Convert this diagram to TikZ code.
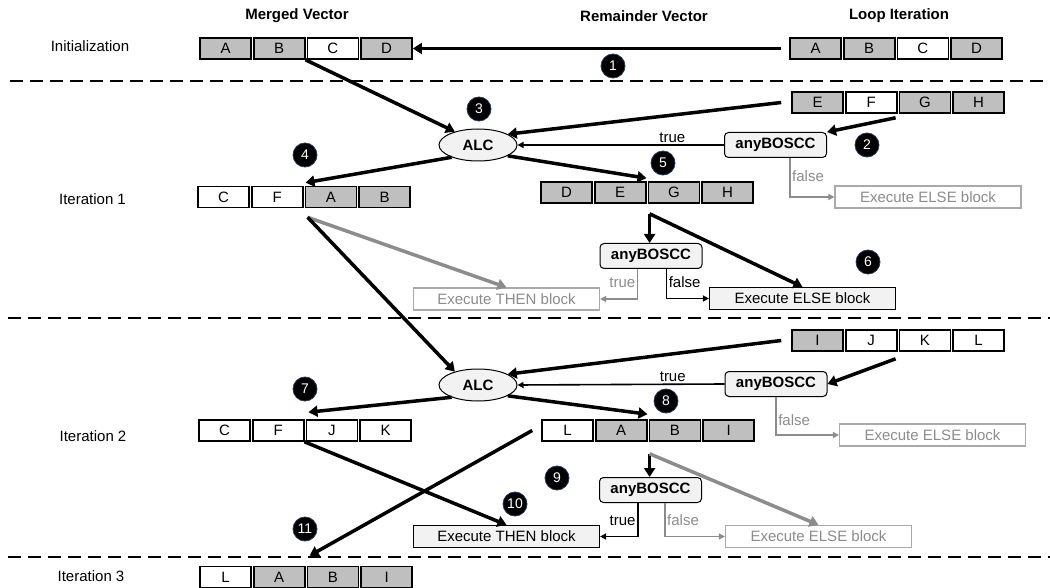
\documentclass[tikz,border=0pt]{standalone}
\usepackage{fontspec}
\setmainfont{Liberation Sans}
\usetikzlibrary{arrows.meta,shapes.geometric,calc}
\definecolor{cfill}{RGB}{191,191,191}
\definecolor{clight}{RGB}{242,242,242}
\definecolor{cgline}{RGB}{140,140,140}
\definecolor{cgtext}{RGB}{140,140,140}
\definecolor{cgbox}{RGB}{170,170,170}
\definecolor{cbadge}{RGB}{31,56,100}
\newcommand\vecrow[4]{%
  \foreach \l/\f [count=\i] in {#4} {
    \node[vcell, fill=\f] (#1-\i) at ({#2+25.5+(\i-1)*53.7},#3) {\l};
  }}
\begin{document}
\begin{tikzpicture}[x=1pt,y=-1pt,
  font=\fontsize{15}{18}\selectfont,
  hdr/.style={font=\fontsize{15}{18}\selectfont\bfseries},
  vcell/.style={draw, line width=1.6pt, minimum width=51pt, minimum height=21pt, inner sep=0pt},
  alcnode/.style={ellipse, draw, fill=clight, line width=1pt, minimum width=78pt, minimum height=32pt, inner sep=0pt, font=\fontsize{15}{18}\selectfont\bfseries},
  boscc/.style={draw, rounded corners=4pt, fill=clight, line width=1pt, minimum width=102pt, minimum height=25pt, inner sep=0pt, font=\fontsize{15}{18}\selectfont\bfseries},
  execbox/.style={draw, fill=clight, line width=1.2pt, minimum width=186pt, minimum height=22pt, inner sep=0pt},
  execgray/.style={draw=cgbox, fill=white, text=cgtext, line width=1.2pt, minimum width=186pt, minimum height=22pt, inner sep=0pt},
  badge/.style={circle, fill=black, draw=cbadge, line width=0.8pt, minimum size=24pt, inner sep=0pt, text=white, font=\fontsize{14}{14}\selectfont},
  thickarr/.style={line width=3.5pt, -{Triangle[length=9pt,width=11pt]}},
  grayarr/.style={line width=3.5pt, draw=cgline, -{Triangle[length=9pt,width=11pt]}},
  thinarr/.style={line width=1.6pt, -{Triangle[length=6pt,width=6pt]}},
  grayline/.style={line width=1.6pt, draw=cgline, -{Triangle[length=6pt,width=6pt]}},
  lbl/.style={inner sep=1.5pt},
  sepline/.style={line width=2.5pt, dash pattern=on 13pt off 7pt}
]
\useasboundingbox (0,0) rectangle (1050,588);

% headers and row labels
\node[hdr] (hm) at (297,16) {Merged Vector};
\node[hdr] (hr) at (644,16) {Remainder Vector};
\node[hdr] (hl) at (899,16) {Loop Iteration};
\node (lab0) at (90,46) {Initialization};
\node (lab1) at (92.5,199) {Iteration 1};
\node (lab2) at (93,436) {Iteration 2};
\node (lab3) at (91,576) {Iteration 3};

% separators
\draw[sepline] (10,81) -- (1050,81);
\draw[sepline] (8,318) -- (1050,318);
\draw[sepline] (8,557) -- (1050,557);

% vectors
\vecrow{mv0}{200}{48.5}{A/cfill,B/cfill,C/white,D/cfill}
\vecrow{lv0}{790}{48.5}{A/cfill,B/cfill,C/white,D/cfill}
\vecrow{lv1}{792}{102.5}{E/cfill,F/white,G/cfill,H/cfill}
\vecrow{mv1}{198}{197}{C/white,F/white,A/cfill,B/cfill}
\vecrow{rv1}{541}{192.5}{D/cfill,E/cfill,G/cfill,H/cfill}
\vecrow{lv2}{792}{340.5}{I/cfill,J/white,K/white,L/white}
\vecrow{mv2}{199}{430.5}{C/white,F/white,J/white,K/white}
\vecrow{rv2}{542}{430.5}{L/white,A/cfill,B/cfill,I/cfill}
\vecrow{mv3}{200}{577}{L/white,A/cfill,B/cfill,I/cfill}

% operation nodes
\node[alcnode] (alc1) at (478,145) {ALC};
\node[alcnode] (alc2) at (478,385) {ALC};
\node[boscc] (any1) at (775.5,145) {anyBOSCC};
\node[boscc] (any2) at (651,256) {anyBOSCC};
\node[boscc] (any3) at (776,384) {anyBOSCC};
\node[boscc] (any4) at (650.5,490) {anyBOSCC};
\node[execgray] (else1a) at (928,197) {Execute ELSE block};
\node[execgray] (then1) at (506.5,299) {Execute THEN block};
\node[execbox] (else1b) at (802.5,298.5) {Execute ELSE block};
\node[execgray] (else2a) at (932.5,435) {Execute ELSE block};
\node[execbox] (then2) at (506.5,536.5) {Execute THEN block};
\node[execgray] (else2b) at (818.5,536.5) {Execute ELSE block};

% badges
\node[badge] (b1) at (613,66) {1};
\node[badge] (b2) at (867,145) {2};
\node[badge] (b3) at (479,109) {3};
\node[badge] (b4) at (305,155) {4};
\node[badge] (b5) at (663,163) {5};
\node[badge] (b6) at (868,262) {6};
\node[badge] (b7) at (305,389) {7};
\node[badge] (b8) at (666,401) {8};
\node[badge] (b9) at (557,478) {9};
\node[badge] (b10) at (515,504) {10};
\node[badge] (b11) at (305,529) {11};

% initialization
\draw[thickarr] ([shift={(-8,0)}]lv0-1.west) -- (mv0-4.east);

% iteration 1
\draw[thickarr] (mv0-2.south east) -- (alc1.150);
\draw[thickarr] ([shift={(-10,0)}]lv1-1.west) -- (alc1.20);
\draw[thinarr] (any1.west) -- node[lbl,above,pos=0.25]{true} (alc1.east);
\draw[thickarr] ([shift={(-3,4)}]lv1-3.south west) -- (any1.north east);
\draw[grayline] ($(any1.south west)!0.64!(any1.south east)$) |- node[lbl,right,pos=0.23,text=cgtext]{false} (else1a.west);
\draw[thickarr] (alc1.205) -- ([shift={(2,-3)}]mv1-2.north east);
\draw[thickarr] (alc1.340) -- ([shift={(0,-3)}]rv1-2.north east);
\coordinate (f1) at ([shift={(2,10)}]rv1-3.south west);
\draw[thickarr] (f1) -- (f1 |- any2.north);
\draw[thickarr] (f1) -- (else1b.north);
\draw[grayline] ($(any2.south west)!0.37!(any2.south east)$) |- node[lbl,left,pos=0.23,text=cgtext]{true} (then1.east);
\draw[thinarr] ($(any2.south west)!0.65!(any2.south east)$) |- node[lbl,right,pos=0.23]{false} (else1b.west);
\coordinate (f2) at ([shift={(3,9)}]mv1-3.south west);
\draw[grayarr] (f2) -- (then1.north);
\draw[thickarr] (f2) -- (alc2.150);

% iteration 2
\draw[thickarr] ([shift={(-10,0)}]lv2-1.west) -- (alc2.20);
\draw[thickarr] ([shift={(-3,7)}]lv2-3.south west) -- (any3.east);
\draw[thinarr] (any3.west) -- node[lbl,above,pos=0.25]{true} (alc2.east);
\draw[grayline] (any3.south) |- node[lbl,right,pos=0.31,text=cgtext]{false} (else2a.west);
\draw[thickarr] (alc2.205) -- ([shift={(4,-7)}]mv2-2.north east);
\draw[thickarr] (alc2.340) -- ([shift={(0,-5)}]rv2-2.north east);
\coordinate (f3) at ([shift={(1,12)}]rv2-3.south west);
\draw[thickarr] (f3) -- (f3 |- any4.north);
\draw[grayarr] (f3) -- (else2b.north);
\draw[thinarr] ($(any4.south west)!0.376!(any4.south east)$) |- node[lbl,left,pos=0.26]{true} (then2.east);
\draw[grayline] ($(any4.south west)!0.64!(any4.south east)$) |- node[lbl,right,pos=0.26,text=cgtext]{false} (else2b.west);
\draw[thickarr] (mv2-2.south east) -- (then2.north);
\draw[thickarr] ([shift={(-9,0)}]rv2-1.west) -- ([shift={(3,-10)}]mv3-3.north west);
\end{tikzpicture}
\end{document}
